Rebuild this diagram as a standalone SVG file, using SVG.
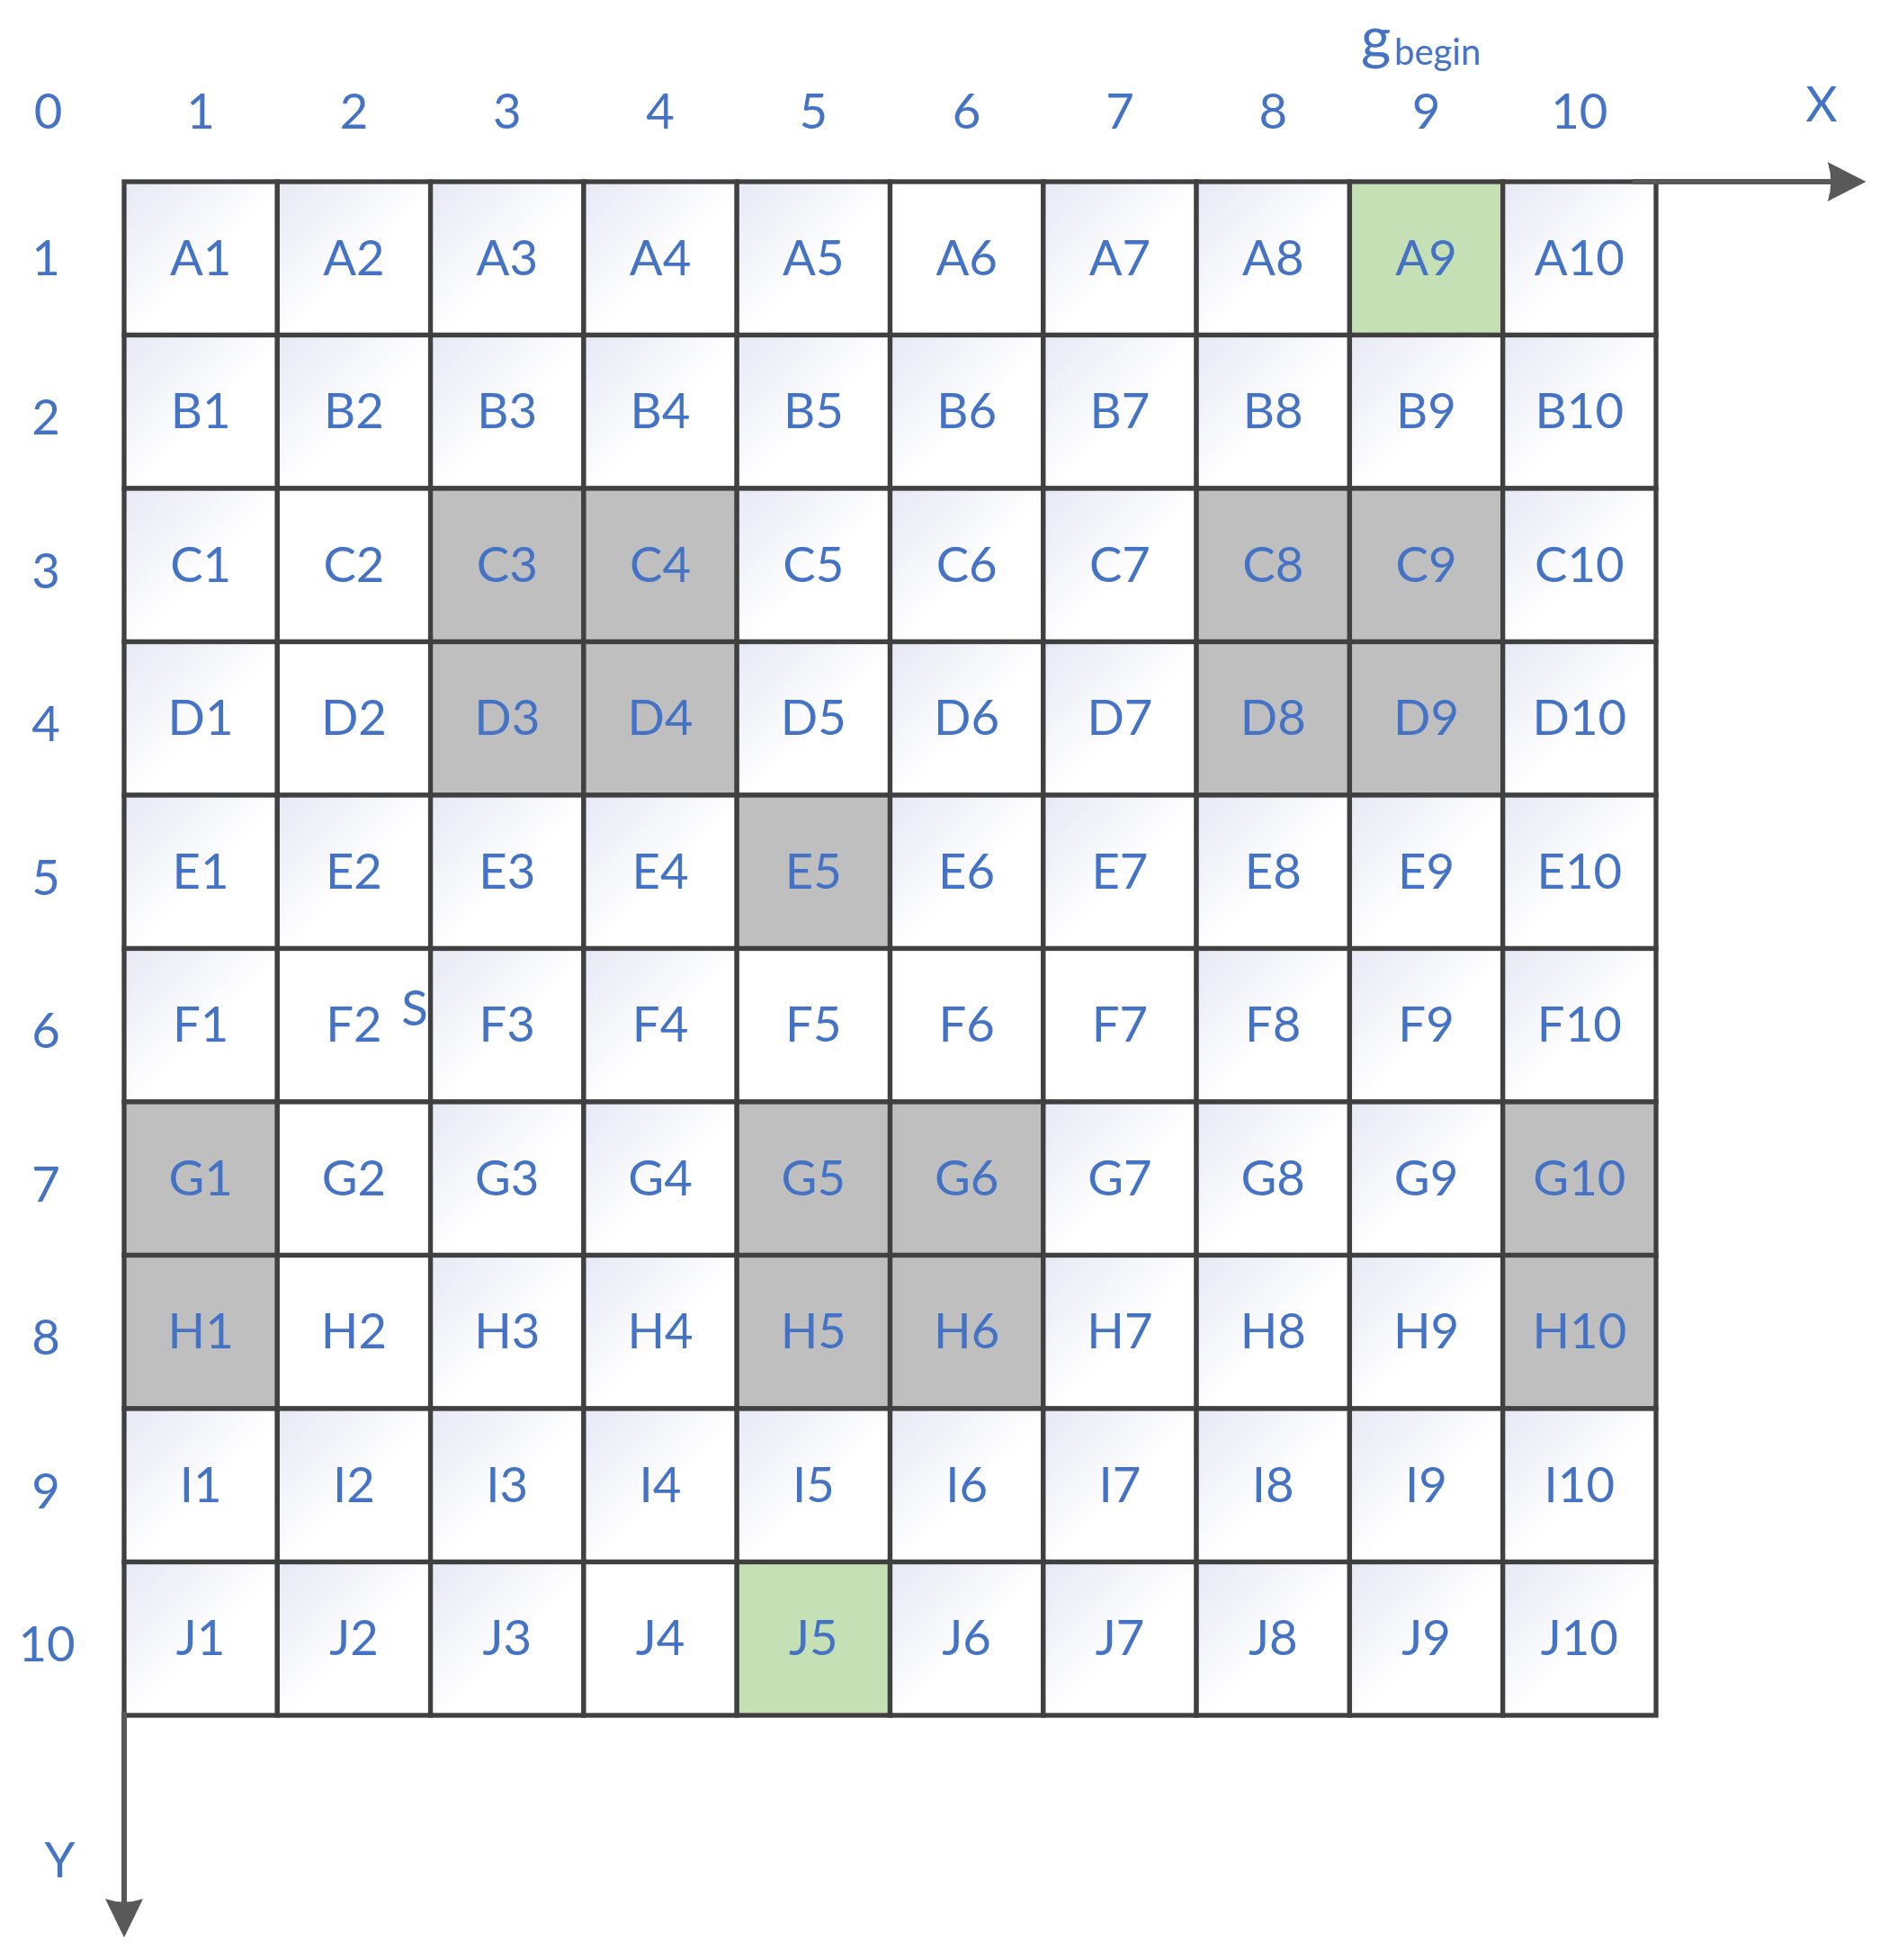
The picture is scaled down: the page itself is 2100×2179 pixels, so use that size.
<svg xmlns="http://www.w3.org/2000/svg" width="2100" height="2179" viewBox="0 0 2100 2179">
<style>
.c{stroke:#404040;stroke-width:5.3}
.g{fill:url(#cellGrad)}
.w{fill:#FFFFFF}
.k{fill:#BFBFBF}
.n{fill:#C5E0B4}
text{font-family:Lato,"Open Sans","Liberation Sans",sans-serif;fill:#4472C4;font-size:54.5px;text-anchor:middle}
.ax{stroke:#595959;stroke-width:6;fill:none}
.ah{fill:#595959}
</style>
<defs>
<linearGradient id="cellGrad" x1="0" y1="0" x2="1" y2="1">
<stop offset="0" stop-color="#E6E8F4"/>
<stop offset="0.55" stop-color="#FFFFFF"/>
<stop offset="1" stop-color="#FFFFFF"/>
</linearGradient>
</defs>
<rect width="2100" height="2179" fill="#FFFFFF"/>
<g id="cells">
<g id="A1" transform="translate(138,202)"><rect class="c g" width="170.3" height="170.5"/><text x="85.15" y="103.5">A1</text></g>
<g id="A2" transform="translate(308.3,202)"><rect class="c g" width="170.3" height="170.5"/><text x="85.15" y="103.5">A2</text></g>
<g id="A3" transform="translate(478.6,202)"><rect class="c g" width="170.3" height="170.5"/><text x="85.15" y="103.5">A3</text></g>
<g id="A4" transform="translate(648.9,202)"><rect class="c g" width="170.3" height="170.5"/><text x="85.15" y="103.5">A4</text></g>
<g id="A5" transform="translate(819.2,202)"><rect class="c g" width="170.3" height="170.5"/><text x="85.15" y="103.5">A5</text></g>
<g id="A6" transform="translate(989.5,202)"><rect class="c w" width="170.3" height="170.5"/><text x="85.15" y="103.5">A6</text></g>
<g id="A7" transform="translate(1159.8,202)"><rect class="c g" width="170.3" height="170.5"/><text x="85.15" y="103.5">A7</text></g>
<g id="A8" transform="translate(1330.1,202)"><rect class="c g" width="170.3" height="170.5"/><text x="85.15" y="103.5">A8</text></g>
<g id="A9" transform="translate(1500.4,202)"><rect class="c n" width="170.3" height="170.5"/><text x="85.15" y="103.5">A9</text></g>
<g id="A10" transform="translate(1670.7,202)"><rect class="c g" width="170.3" height="170.5"/><text x="85.15" y="103.5">A10</text></g>

<g id="B1" transform="translate(138,372.5)"><rect class="c g" width="170.3" height="170.5"/><text x="85.15" y="103.5">B1</text></g>
<g id="B2" transform="translate(308.3,372.5)"><rect class="c g" width="170.3" height="170.5"/><text x="85.15" y="103.5">B2</text></g>
<g id="B3" transform="translate(478.6,372.5)"><rect class="c g" width="170.3" height="170.5"/><text x="85.15" y="103.5">B3</text></g>
<g id="B4" transform="translate(648.9,372.5)"><rect class="c g" width="170.3" height="170.5"/><text x="85.15" y="103.5">B4</text></g>
<g id="B5" transform="translate(819.2,372.5)"><rect class="c g" width="170.3" height="170.5"/><text x="85.15" y="103.5">B5</text></g>
<g id="B6" transform="translate(989.5,372.5)"><rect class="c g" width="170.3" height="170.5"/><text x="85.15" y="103.5">B6</text></g>
<g id="B7" transform="translate(1159.8,372.5)"><rect class="c g" width="170.3" height="170.5"/><text x="85.15" y="103.5">B7</text></g>
<g id="B8" transform="translate(1330.1,372.5)"><rect class="c g" width="170.3" height="170.5"/><text x="85.15" y="103.5">B8</text></g>
<g id="B9" transform="translate(1500.4,372.5)"><rect class="c g" width="170.3" height="170.5"/><text x="85.15" y="103.5">B9</text></g>
<g id="B10" transform="translate(1670.7,372.5)"><rect class="c g" width="170.3" height="170.5"/><text x="85.15" y="103.5">B10</text></g>

<g id="C1" transform="translate(138,543)"><rect class="c g" width="170.3" height="170.5"/><text x="85.15" y="103.5">C1</text></g>
<g id="C2" transform="translate(308.3,543)"><rect class="c w" width="170.3" height="170.5"/><text x="85.15" y="103.5">C2</text></g>
<g id="C3" transform="translate(478.6,543)"><rect class="c k" width="170.3" height="170.5"/><text x="85.15" y="103.5">C3</text></g>
<g id="C4" transform="translate(648.9,543)"><rect class="c k" width="170.3" height="170.5"/><text x="85.15" y="103.5">C4</text></g>
<g id="C5" transform="translate(819.2,543)"><rect class="c g" width="170.3" height="170.5"/><text x="85.15" y="103.5">C5</text></g>
<g id="C6" transform="translate(989.5,543)"><rect class="c g" width="170.3" height="170.5"/><text x="85.15" y="103.5">C6</text></g>
<g id="C7" transform="translate(1159.8,543)"><rect class="c g" width="170.3" height="170.5"/><text x="85.15" y="103.5">C7</text></g>
<g id="C8" transform="translate(1330.1,543)"><rect class="c k" width="170.3" height="170.5"/><text x="85.15" y="103.5">C8</text></g>
<g id="C9" transform="translate(1500.4,543)"><rect class="c k" width="170.3" height="170.5"/><text x="85.15" y="103.5">C9</text></g>
<g id="C10" transform="translate(1670.7,543)"><rect class="c g" width="170.3" height="170.5"/><text x="85.15" y="103.5">C10</text></g>

<g id="D1" transform="translate(138,713.5)"><rect class="c g" width="170.3" height="170.5"/><text x="85.15" y="103.5">D1</text></g>
<g id="D2" transform="translate(308.3,713.5)"><rect class="c w" width="170.3" height="170.5"/><text x="85.15" y="103.5">D2</text></g>
<g id="D3" transform="translate(478.6,713.5)"><rect class="c k" width="170.3" height="170.5"/><text x="85.15" y="103.5">D3</text></g>
<g id="D4" transform="translate(648.9,713.5)"><rect class="c k" width="170.3" height="170.5"/><text x="85.15" y="103.5">D4</text></g>
<g id="D5" transform="translate(819.2,713.5)"><rect class="c g" width="170.3" height="170.5"/><text x="85.15" y="103.5">D5</text></g>
<g id="D6" transform="translate(989.5,713.5)"><rect class="c g" width="170.3" height="170.5"/><text x="85.15" y="103.5">D6</text></g>
<g id="D7" transform="translate(1159.8,713.5)"><rect class="c g" width="170.3" height="170.5"/><text x="85.15" y="103.5">D7</text></g>
<g id="D8" transform="translate(1330.1,713.5)"><rect class="c k" width="170.3" height="170.5"/><text x="85.15" y="103.5">D8</text></g>
<g id="D9" transform="translate(1500.4,713.5)"><rect class="c k" width="170.3" height="170.5"/><text x="85.15" y="103.5">D9</text></g>
<g id="D10" transform="translate(1670.7,713.5)"><rect class="c g" width="170.3" height="170.5"/><text x="85.15" y="103.5">D10</text></g>

<g id="E1" transform="translate(138,884)"><rect class="c g" width="170.3" height="170.5"/><text x="85.15" y="103.5">E1</text></g>
<g id="E2" transform="translate(308.3,884)"><rect class="c g" width="170.3" height="170.5"/><text x="85.15" y="103.5">E2</text></g>
<g id="E3" transform="translate(478.6,884)"><rect class="c g" width="170.3" height="170.5"/><text x="85.15" y="103.5">E3</text></g>
<g id="E4" transform="translate(648.9,884)"><rect class="c g" width="170.3" height="170.5"/><text x="85.15" y="103.5">E4</text></g>
<g id="E5" transform="translate(819.2,884)"><rect class="c k" width="170.3" height="170.5"/><text x="85.15" y="103.5">E5</text></g>
<g id="E6" transform="translate(989.5,884)"><rect class="c g" width="170.3" height="170.5"/><text x="85.15" y="103.5">E6</text></g>
<g id="E7" transform="translate(1159.8,884)"><rect class="c g" width="170.3" height="170.5"/><text x="85.15" y="103.5">E7</text></g>
<g id="E8" transform="translate(1330.1,884)"><rect class="c g" width="170.3" height="170.5"/><text x="85.15" y="103.5">E8</text></g>
<g id="E9" transform="translate(1500.4,884)"><rect class="c g" width="170.3" height="170.5"/><text x="85.15" y="103.5">E9</text></g>
<g id="E10" transform="translate(1670.7,884)"><rect class="c g" width="170.3" height="170.5"/><text x="85.15" y="103.5">E10</text></g>

<g id="F1" transform="translate(138,1054.5)"><rect class="c g" width="170.3" height="170.5"/><text x="85.15" y="103.5">F1</text></g>
<g id="F2" transform="translate(308.3,1054.5)"><rect class="c w" width="170.3" height="170.5"/><text x="85.15" y="103.5">F2</text><text x="152.7" y="85.5">S</text></g>
<g id="F3" transform="translate(478.6,1054.5)"><rect class="c g" width="170.3" height="170.5"/><text x="85.15" y="103.5">F3</text></g>
<g id="F4" transform="translate(648.9,1054.5)"><rect class="c g" width="170.3" height="170.5"/><text x="85.15" y="103.5">F4</text></g>
<g id="F5" transform="translate(819.2,1054.5)"><rect class="c w" width="170.3" height="170.5"/><text x="85.15" y="103.5">F5</text></g>
<g id="F6" transform="translate(989.5,1054.5)"><rect class="c w" width="170.3" height="170.5"/><text x="85.15" y="103.5">F6</text></g>
<g id="F7" transform="translate(1159.8,1054.5)"><rect class="c w" width="170.3" height="170.5"/><text x="85.15" y="103.5">F7</text></g>
<g id="F8" transform="translate(1330.1,1054.5)"><rect class="c g" width="170.3" height="170.5"/><text x="85.15" y="103.5">F8</text></g>
<g id="F9" transform="translate(1500.4,1054.5)"><rect class="c g" width="170.3" height="170.5"/><text x="85.15" y="103.5">F9</text></g>
<g id="F10" transform="translate(1670.7,1054.5)"><rect class="c g" width="170.3" height="170.5"/><text x="85.15" y="103.5">F10</text></g>

<g id="G1" transform="translate(138,1225)"><rect class="c k" width="170.3" height="170.5"/><text x="85.15" y="103.5">G1</text></g>
<g id="G2" transform="translate(308.3,1225)"><rect class="c w" width="170.3" height="170.5"/><text x="85.15" y="103.5">G2</text></g>
<g id="G3" transform="translate(478.6,1225)"><rect class="c g" width="170.3" height="170.5"/><text x="85.15" y="103.5">G3</text></g>
<g id="G4" transform="translate(648.9,1225)"><rect class="c g" width="170.3" height="170.5"/><text x="85.15" y="103.5">G4</text></g>
<g id="G5" transform="translate(819.2,1225)"><rect class="c k" width="170.3" height="170.5"/><text x="85.15" y="103.5">G5</text></g>
<g id="G6" transform="translate(989.5,1225)"><rect class="c k" width="170.3" height="170.5"/><text x="85.15" y="103.5">G6</text></g>
<g id="G7" transform="translate(1159.8,1225)"><rect class="c g" width="170.3" height="170.5"/><text x="85.15" y="103.5">G7</text></g>
<g id="G8" transform="translate(1330.1,1225)"><rect class="c g" width="170.3" height="170.5"/><text x="85.15" y="103.5">G8</text></g>
<g id="G9" transform="translate(1500.4,1225)"><rect class="c g" width="170.3" height="170.5"/><text x="85.15" y="103.5">G9</text></g>
<g id="G10" transform="translate(1670.7,1225)"><rect class="c k" width="170.3" height="170.5"/><text x="85.15" y="103.5">G10</text></g>

<g id="H1" transform="translate(138,1395.5)"><rect class="c k" width="170.3" height="170.5"/><text x="85.15" y="103.5">H1</text></g>
<g id="H2" transform="translate(308.3,1395.5)"><rect class="c w" width="170.3" height="170.5"/><text x="85.15" y="103.5">H2</text></g>
<g id="H3" transform="translate(478.6,1395.5)"><rect class="c g" width="170.3" height="170.5"/><text x="85.15" y="103.5">H3</text></g>
<g id="H4" transform="translate(648.9,1395.5)"><rect class="c g" width="170.3" height="170.5"/><text x="85.15" y="103.5">H4</text></g>
<g id="H5" transform="translate(819.2,1395.5)"><rect class="c k" width="170.3" height="170.5"/><text x="85.15" y="103.5">H5</text></g>
<g id="H6" transform="translate(989.5,1395.5)"><rect class="c k" width="170.3" height="170.5"/><text x="85.15" y="103.5">H6</text></g>
<g id="H7" transform="translate(1159.8,1395.5)"><rect class="c g" width="170.3" height="170.5"/><text x="85.15" y="103.5">H7</text></g>
<g id="H8" transform="translate(1330.1,1395.5)"><rect class="c g" width="170.3" height="170.5"/><text x="85.15" y="103.5">H8</text></g>
<g id="H9" transform="translate(1500.4,1395.5)"><rect class="c g" width="170.3" height="170.5"/><text x="85.15" y="103.5">H9</text></g>
<g id="H10" transform="translate(1670.7,1395.5)"><rect class="c k" width="170.3" height="170.5"/><text x="85.15" y="103.5">H10</text></g>

<g id="I1" transform="translate(138,1566)"><rect class="c g" width="170.3" height="170.5"/><text x="85.15" y="103.5">I1</text></g>
<g id="I2" transform="translate(308.3,1566)"><rect class="c g" width="170.3" height="170.5"/><text x="85.15" y="103.5">I2</text></g>
<g id="I3" transform="translate(478.6,1566)"><rect class="c g" width="170.3" height="170.5"/><text x="85.15" y="103.5">I3</text></g>
<g id="I4" transform="translate(648.9,1566)"><rect class="c g" width="170.3" height="170.5"/><text x="85.15" y="103.5">I4</text></g>
<g id="I5" transform="translate(819.2,1566)"><rect class="c g" width="170.3" height="170.5"/><text x="85.15" y="103.5">I5</text></g>
<g id="I6" transform="translate(989.5,1566)"><rect class="c g" width="170.3" height="170.5"/><text x="85.15" y="103.5">I6</text></g>
<g id="I7" transform="translate(1159.8,1566)"><rect class="c g" width="170.3" height="170.5"/><text x="85.15" y="103.5">I7</text></g>
<g id="I8" transform="translate(1330.1,1566)"><rect class="c g" width="170.3" height="170.5"/><text x="85.15" y="103.5">I8</text></g>
<g id="I9" transform="translate(1500.4,1566)"><rect class="c g" width="170.3" height="170.5"/><text x="85.15" y="103.5">I9</text></g>
<g id="I10" transform="translate(1670.7,1566)"><rect class="c g" width="170.3" height="170.5"/><text x="85.15" y="103.5">I10</text></g>

<g id="J1" transform="translate(138,1736.5)"><rect class="c g" width="170.3" height="170.5"/><text x="85.15" y="103.5">J1</text></g>
<g id="J2" transform="translate(308.3,1736.5)"><rect class="c g" width="170.3" height="170.5"/><text x="85.15" y="103.5">J2</text></g>
<g id="J3" transform="translate(478.6,1736.5)"><rect class="c g" width="170.3" height="170.5"/><text x="85.15" y="103.5">J3</text></g>
<g id="J4" transform="translate(648.9,1736.5)"><rect class="c w" width="170.3" height="170.5"/><text x="85.15" y="103.5">J4</text></g>
<g id="J5" transform="translate(819.2,1736.5)"><rect class="c n" width="170.3" height="170.5"/><text x="85.15" y="103.5">J5</text></g>
<g id="J6" transform="translate(989.5,1736.5)"><rect class="c g" width="170.3" height="170.5"/><text x="85.15" y="103.5">J6</text></g>
<g id="J7" transform="translate(1159.8,1736.5)"><rect class="c g" width="170.3" height="170.5"/><text x="85.15" y="103.5">J7</text></g>
<g id="J8" transform="translate(1330.1,1736.5)"><rect class="c g" width="170.3" height="170.5"/><text x="85.15" y="103.5">J8</text></g>
<g id="J9" transform="translate(1500.4,1736.5)"><rect class="c g" width="170.3" height="170.5"/><text x="85.15" y="103.5">J9</text></g>
<g id="J10" transform="translate(1670.7,1736.5)"><rect class="c g" width="170.3" height="170.5"/><text x="85.15" y="103.5">J10</text></g>
</g>

<g id="col-labels">
<text x="53.5" y="143">0</text>
<text x="223.15" y="143">1</text>
<text x="393.45" y="143">2</text>
<text x="563.75" y="143">3</text>
<text x="734.05" y="143">4</text>
<text x="904.35" y="143">5</text>
<text x="1074.65" y="143">6</text>
<text x="1244.95" y="143">7</text>
<text x="1415.25" y="143">8</text>
<text x="1585.55" y="143">9</text>
<text x="1755.85" y="143">10</text>
</g>
<g id="row-labels">
<text x="51" y="305.5">1</text>
<text x="51" y="483">2</text>
<text x="51" y="653.5">3</text>
<text x="51" y="824">4</text>
<text x="51" y="994.5">5</text>
<text x="51" y="1165">6</text>
<text x="51" y="1335.5">7</text>
<text x="51" y="1506">8</text>
<text x="51" y="1676.5">9</text>
<text x="52" y="1847">10</text>
</g>
<g id="g-begin-label">
<text x="1513" y="65" style="text-anchor:start;font-size:64px">g</text>
<text x="1550" y="72" style="text-anchor:start;font-size:40px">begin</text>
</g>

<g id="connectors">
<g id="x-axis">
<line class="ax" x1="1815" y1="202" x2="2036" y2="202"/>
<path class="ah" d="M2031.7,180 L2074.5,202 L2031.7,224 Q2039,202 2031.7,180 Z"/>
<text x="2025" y="135">X</text>
</g>
<g id="y-axis">
<line class="ax" x1="138" y1="1903" x2="138" y2="2116"/>
<path class="ah" d="M117,2111 L138,2154 L159,2111 Q138,2118 117,2111 Z"/>
<text x="66.5" y="2087">Y</text>
</g>
</g>
</svg>
